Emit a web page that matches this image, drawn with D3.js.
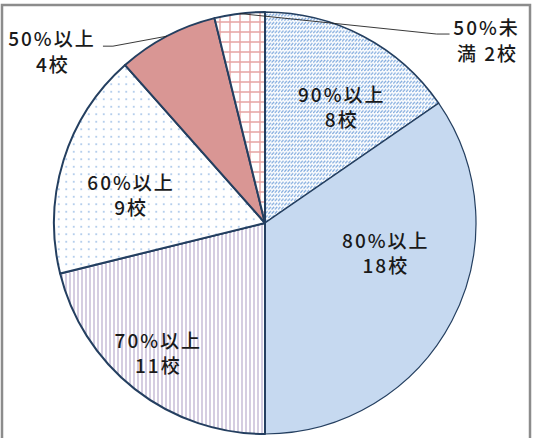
<!DOCTYPE html>
<html>
<head>
<meta charset="utf-8">
<script src="https://cdn.jsdelivr.net/npm/d3@7"></script>
<style>
  html, body { margin: 0; padding: 0; background: #fff; }
  svg { display: block; }
  text { font-family: "Noto Sans CJK JP", "Noto Sans", sans-serif; fill: #1a1a1a; }
</style>
</head>
<body>
<svg id="chart"></svg>
<script>
const width = 533;
const height = 438;

// data
const categories = ["90%以上", "80%以上", "70%以上", "60%以上", "50%以上", "50%未満"];
const counts = [8, 18, 11, 9, 4, 2];
const countLabels = ["8校", "18校", "11校", "9校", "4校", "2校"];

const cx = 265, cy = 223, radius = 211;

const svg = d3.select("#chart")
    .attr("width", width)
    .attr("height", height);

// chart frame
svg.append("rect")
    .attr("x", 2).attr("y", 5)
    .attr("width", 528).attr("height", height + 10)
    .attr("fill", "none")
    .attr("stroke", "#8c8c8c")
    .attr("stroke-width", 2.5);

const defs = svg.append("defs");

// diagonal hatch (90%)
const pHatch = defs.append("pattern").attr("id", "p-diag")
    .attr("patternUnits", "userSpaceOnUse").attr("width", 3.2).attr("height", 4.2);
pHatch.append("rect").attr("width", 3.2).attr("height", 4.2).attr("fill", "#fff");
pHatch.append("line").attr("x1", 0.2).attr("y1", 3.4).attr("x2", 2.6).attr("y2", 0.6)
    .attr("stroke", "#7aa6dc").attr("stroke-width", 1.2);

// vertical lines (70%)
const pVert = defs.append("pattern").attr("id", "p-vert")
    .attr("patternUnits", "userSpaceOnUse").attr("width", 4).attr("height", 4);
pVert.append("rect").attr("width", 4).attr("height", 4).attr("fill", "#fff");
pVert.append("line").attr("x1", 1).attr("y1", 0).attr("x2", 1).attr("y2", 4)
    .attr("stroke", "#ac9bc4").attr("stroke-width", 1);

// dots (60%)
const pDots = defs.append("pattern").attr("id", "p-dots")
    .attr("patternUnits", "userSpaceOnUse").attr("width", 7.5).attr("height", 7.5);
pDots.append("rect").attr("width", 7.5).attr("height", 7.5).attr("fill", "#fff");
pDots.append("rect").attr("x", 3).attr("y", 3).attr("width", 1.5).attr("height", 1.5)
    .attr("fill", "#8db3e2");

// grid (50%未満)
const pGrid = defs.append("pattern").attr("id", "p-grid")
    .attr("patternUnits", "userSpaceOnUse").attr("width", 10).attr("height", 10)
    .attr("x", 0).attr("y", 4);
pGrid.append("rect").attr("width", 10).attr("height", 10).attr("fill", "#fff");
pGrid.append("path").attr("d", "M5,0V10M0,5H10")
    .attr("stroke", "#e6a3a2").attr("stroke-width", 1.4).attr("fill", "none");

const fills = ["url(#p-diag)", "#c6d9f0", "url(#p-vert)", "url(#p-dots)", "#d99694", "url(#p-grid)"];
const strokeWidths = [1.6, 1.2, 2, 2, 2, 2];

const pie = d3.pie().sort(null).value(d => d);
const arcs = pie(counts);

const arc = d3.arc().innerRadius(0).outerRadius(radius);
const labelArc = d3.arc().innerRadius(radius * 0.62).outerRadius(radius * 0.62);

const g = svg.append("g").attr("transform", `translate(${cx},${cy})`);

g.selectAll("path.slice")
    .data(arcs)
    .enter().append("path")
    .attr("class", "slice")
    .attr("d", arc)
    .attr("fill", (d, i) => fills[i])
    .attr("stroke", "#243f60")
    .attr("stroke-width", (d, i) => strokeWidths[i])
    .attr("stroke-linejoin", "round");

// inside labels: nudges from label-arc centroid
const nudges = [[16, -5], [5, -36], [-26, 22], [-9, 6]];

const labelText = (x, y, str) => g.append("text")
    .attr("x", x).attr("y", y)
    .attr("text-anchor", "middle")
    .attr("font-size", 19)
    .attr("font-weight", 500)
    .attr("letter-spacing", 2)
    .text(str);

arcs.slice(0, 4).forEach((d, i) => {
    const [x, y] = labelArc.centroid(d);
    labelText(x + nudges[i][0], y + nudges[i][1], categories[i]);
    labelText(x + nudges[i][0], y + nudges[i][1] + 25, countLabels[i]);
});

// outside labels with leader lines
const edge = d => {
    const a = (d.startAngle + d.endAngle) / 2;
    return [radius * Math.sin(a), -radius * Math.cos(a)];
};

// 50%以上
{
    const d = arcs[4];
    const [ex, ey] = edge(d);
    const lx = ex - 54, ly = ey + 10;
    g.append("path")
        .attr("d", `M${ex},${ey}L${lx},${ly}H${lx - 10}`)
        .attr("fill", "none").attr("stroke", "#222").attr("stroke-width", 0.9);
    const tx = lx - 61;
    labelText(tx, ly, categories[4]);
    labelText(tx + 1, ly + 26, countLabels[4]);
}

// 50%未満
{
    const d = arcs[5];
    const [ex, ey] = edge(d);
    const lx = ex + 197, ly = ey + 20.5;
    g.append("path")
        .attr("d", `M${ex},${ey}L${lx},${ly}H${lx + 13}`)
        .attr("fill", "none").attr("stroke", "#222").attr("stroke-width", 0.9);
    const tx = lx + 50;
    labelText(tx, ly + 1, categories[5].slice(0, 4));
    labelText(tx + 1, ly + 27, categories[5].slice(4) + " " + countLabels[5]);
}
</script>
</body>
</html>
